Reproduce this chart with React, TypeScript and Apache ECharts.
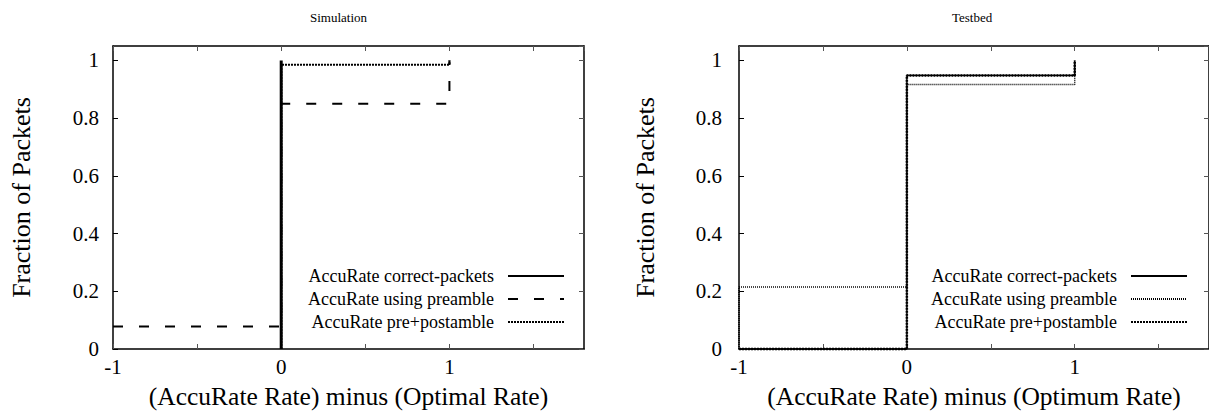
import React, { useEffect, useRef } from "react";
import * as echarts from "echarts";

const SERIES_NAMES = [
  "AccuRate correct-packets",
  "AccuRate using preamble",
  "AccuRate pre+postamble",
];

// Simulation CDFs (x = AccuRate rate minus optimal rate, y = fraction of packets)
const simCorrectX = [0, 0];
const simCorrectY = [0, 1];
const simPreambleX = [-1, 0, 1];
const simPreambleY = [0.078, 0.85, 1.0];
const simPrePostX = [0, 0, 1];
const simPrePostY = [0, 0.985, 1.0];

// Testbed CDFs
const tbCorrectX = [-1, 0, 1];
const tbCorrectY = [0, 0.948, 1.0];
const tbPreambleX = [-1, -1, 0, 1];
const tbPreambleY = [0, 0.215, 0.917, 1.0];
const tbPrePostX = [-1, 0, 1];
const tbPrePostY = [0, 0.948, 1.0];

const X_MIN = -1;
const X_MAX = 1.8;
const X_STEP = 0.5;
const Y_MIN = 0;
const Y_MAX = 1.05;
const Y_STEP = 0.2;

const FONT = "'Times New Roman', 'Liberation Serif', 'DejaVu Serif', serif";

const zip = (xs: number[], ys: number[]) => xs.map((x, i) => [x, ys[i]]);

type LineSpec = { x: number[]; y: number[]; width: number; dash: number[] | "solid" };

function buildOption(cfg: {
  title: string;
  titleLeft: number;
  xName: string;
  gridLeft: number;
  gridWidth: number;
  legendRight: number;
  yNameGap: number;
  yLabelMargin: number;
  lines: LineSpec[];
}) {
  const axisLine = { show: true, onZero: false, lineStyle: { color: "#000", width: 1.5 } };
  const tick = { show: true, inside: true, length: 5, lineStyle: { color: "#555", width: 1 } };
  const xFmt = (v: number) => (Math.abs(v - Math.round(v)) < 1e-6 ? String(Math.round(v)) : "");
  const yFmt = (v: number) =>
    Math.abs(v * 5 - Math.round(v * 5)) < 1e-6 ? String(+v.toFixed(1)) : "";
  return {
    animation: false,
    backgroundColor: "#fff",
    textStyle: { fontFamily: FONT },
    title: {
      text: cfg.title,
      left: cfg.titleLeft,
      top: 6,
      textStyle: { fontFamily: FONT, fontSize: 13, fontWeight: "normal", color: "#000" },
    },
    grid: { left: cfg.gridLeft, top: 46, width: cfg.gridWidth, height: 303, containLabel: false },
    xAxis: [
      {
        type: "value",
        min: X_MIN,
        max: X_MAX,
        interval: X_STEP,
        position: "bottom",
        axisLine,
        axisTick: tick,
        splitLine: { show: false },
        axisLabel: {
          formatter: xFmt,
          color: "#000",
          fontFamily: FONT,
          fontSize: 21,
          margin: 7,
          showMaxLabel: false,
        },
        name: cfg.xName,
        nameLocation: "middle",
        nameGap: 34,
        nameTextStyle: { fontFamily: FONT, fontSize: 25.5, color: "#000" },
      },
      {
        type: "value",
        min: X_MIN,
        max: X_MAX,
        interval: X_STEP,
        position: "top",
        axisLine,
        axisTick: tick,
        splitLine: { show: false },
        axisLabel: { show: false },
      },
    ],
    yAxis: [
      {
        type: "value",
        min: Y_MIN,
        max: Y_MAX,
        interval: Y_STEP,
        position: "left",
        axisLine,
        axisTick: { ...tick, lineStyle: { color: "#000", width: 1 } },
        splitLine: { show: false },
        axisLabel: {
          formatter: yFmt,
          color: "#000",
          fontFamily: FONT,
          fontSize: 21,
          margin: cfg.yLabelMargin,
          showMaxLabel: false,
        },
        name: "Fraction of Packets",
        nameLocation: "middle",
        nameGap: cfg.yNameGap,
        nameTextStyle: { fontFamily: FONT, fontSize: 26, color: "#000" },
      },
      {
        type: "value",
        min: Y_MIN,
        max: Y_MAX,
        interval: Y_STEP,
        position: "right",
        axisLine,
        axisTick: tick,
        splitLine: { show: false },
        axisLabel: { show: false },
      },
    ],
    legend: {
      orient: "vertical",
      right: cfg.legendRight,
      top: 262,
      align: "right",
      itemWidth: 56,
      itemHeight: 14,
      itemGap: 5,
      selectedMode: false,
      itemStyle: { opacity: 0, borderWidth: 0 },
      textStyle: {
        fontFamily: FONT,
        fontSize: 18,
        color: "#000",
        padding: [0, 9, 0, 0],
      },
      data: SERIES_NAMES,
    },
    series: cfg.lines.map((l, i) => ({
      name: SERIES_NAMES[i],
      type: "line",
      xAxisIndex: 0,
      yAxisIndex: 0,
      step: "end",
      symbol: "none",
      clip: false,
      silent: true,
      data: zip(l.x, l.y),
      lineStyle: { color: "#000", width: l.width, type: l.dash },
      itemStyle: { color: "#000" },
    })),
  };
}

function Chart({ left, width, option }: { left: number; width: number; option: any }) {
  const ref = useRef<HTMLDivElement>(null);
  useEffect(() => {
    if (!ref.current) return;
    const chart = echarts.init(ref.current, undefined, { renderer: "svg" });
    chart.setOption(option);
    return () => chart.dispose();
  }, [option]);
  return (
    <div
      ref={ref}
      style={{ position: "absolute", left, top: 0, width, height: 416 }}
    />
  );
}

const simOption = buildOption({
  title: "Simulation",
  titleLeft: 305,
  xName: "(AccuRate Rate) minus (Optimal Rate)",
  gridLeft: 112,
  gridWidth: 472,
  legendRight: 34,
  yNameGap: 79,
  yLabelMargin: 14,
  lines: [
    { x: simCorrectX, y: simCorrectY, width: 3, dash: "solid" },
    { x: simPreambleX, y: simPreambleY, width: 2, dash: [10, 16] },
    { x: simPrePostX, y: simPrePostY, width: 2.2, dash: [2, 1] },
  ],
});

const tbOption = buildOption({
  title: "Testbed",
  titleLeft: 343,
  xName: "(AccuRate Rate) minus (Optimum Rate)",
  gridLeft: 135,
  gridWidth: 473,
  legendRight: 16,
  yNameGap: 81,
  yLabelMargin: 17,
  lines: [
    { x: tbCorrectX, y: tbCorrectY, width: 1.3, dash: "solid" },
    { x: tbPreambleX, y: tbPreambleY, width: 1.5, dash: [1, 1] },
    { x: tbPrePostX, y: tbPrePostY, width: 2.5, dash: [2, 1] },
  ],
});

export default function App() {
  return (
    <div style={{ position: "absolute", left: 0, top: 0, width: 1209, height: 416, background: "#fff", overflow: "hidden" }}>
      <Chart left={0} width={604} option={simOption} />
      <Chart left={604} width={605} option={tbOption} />
    </div>
  );
}
